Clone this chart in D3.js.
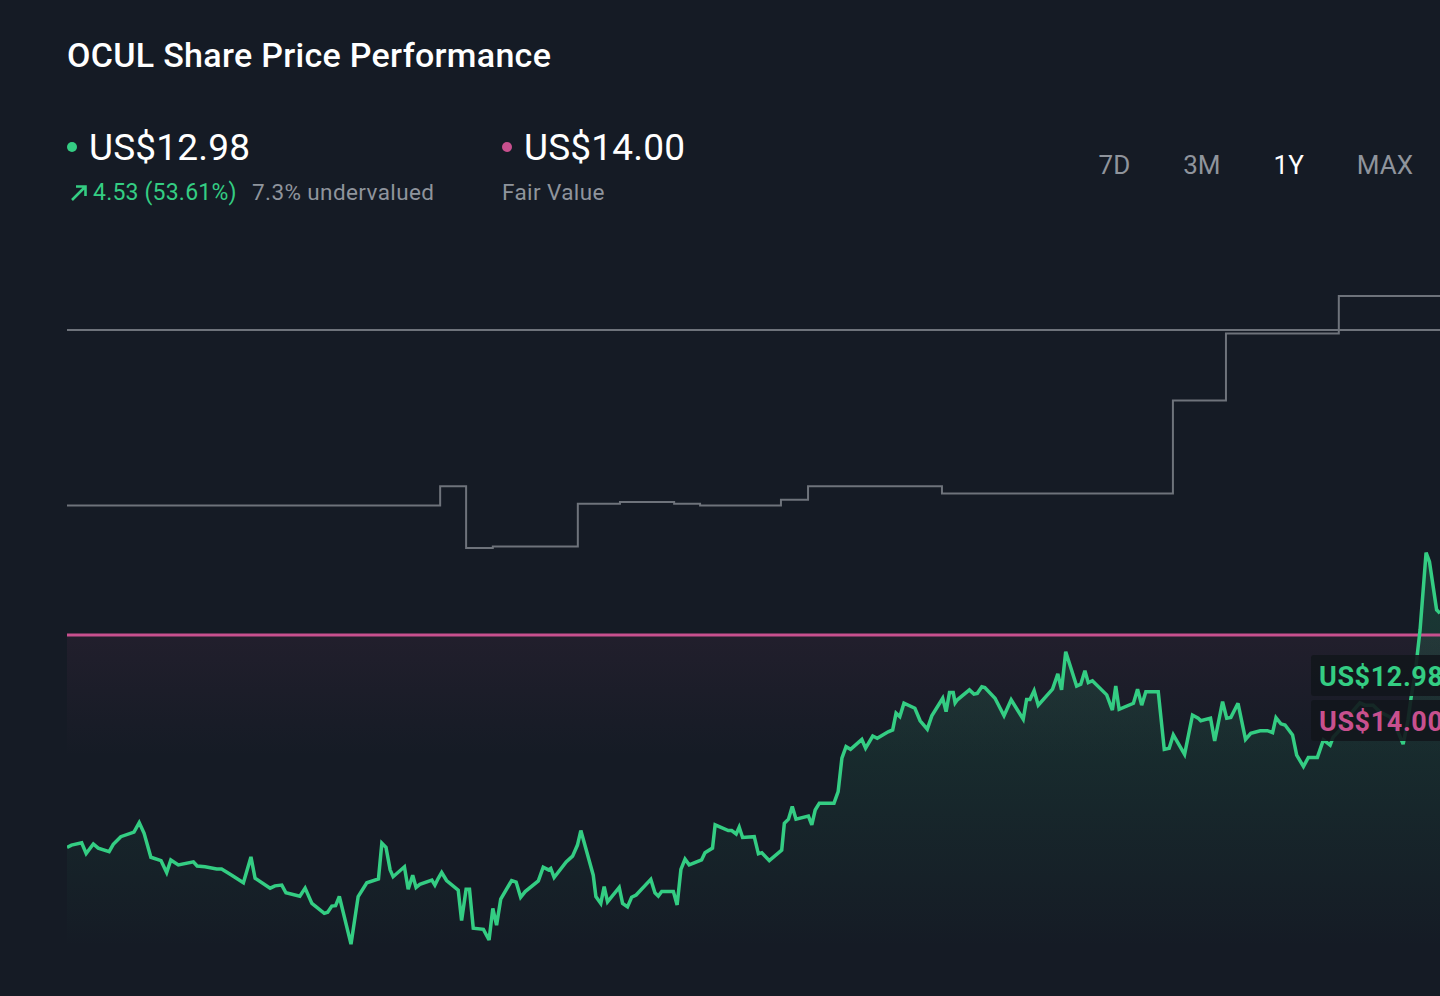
<!DOCTYPE html>
<html>
<head>
<meta charset="utf-8">
<script src="https://cdn.jsdelivr.net/npm/d3@7/dist/d3.min.js"></script>
<style>
  html, body { margin: 0; padding: 0; background: #151b25; }
  svg { display: block; font-family: Roboto, "Noto Sans", sans-serif; }
</style>
</head>
<body>
<svg id="chart" width="1440" height="996"></svg>
<script>
// ---------------- DATA ----------------
const ticker = "OCUL";
const currentPrice = 12.98;
const fairValue = 14.00;
const priceChange = "4.53 (53.61%)";
const valuationNote = "7.3% undervalued";
const rangeTabs = ["7D", "3M", "1Y", "MAX"];
const activeTab = "1Y";
const referenceLevel = 22.0;

// price series: days since start of window, close price (US$)
const priceDays = [0,1.2,3.9,5.1,7.0,8.3,11.2,12.3,14.3,17.8,19.2,20.5,22.3,25.0,26.5,27.6,29.6,33.6,34.6,36.7,39.8,41.1,43.8,46.9,48.9,50.0,54.0,55.3,57.1,58.2,61.9,63.3,65.1,68.4,69.3,70.4,71.4,72.4,75.5,77.4,79.7,82.8,83.7,84.8,85.9,86.7,89.7,90.7,91.9,92.8,93.8,97.0,97.8,98.7,99.6,100.9,104.0,104.9,106.1,107.0,108.0,110.7,112.2,113.2,114.2,115.3,118.2,119.4,120.6,121.8,125.3,126.6,128.0,128.6,129.5,132.7,134.4,135.7,136.6,139.9,140.6,141.9,142.8,143.7,146.8,147.7,149.0,150.1,151.3,155.2,156.3,157.2,158.1,161.2,162.2,163.2,164.3,165.4,168.7,169.6,171.6,172.3,175.8,176.7,177.9,178.7,179.6,182.7,183.8,184.7,186.7,190.0,190.7,191.8,192.8,193.8,197.1,198.0,198.9,200.0,203.9,205.0,206.0,207.1,208.3,211.3,212.3,214.2,215.4,218.3,219.5,220.4,221.4,222.5,225.4,226.8,228.7,229.9,232.8,233.7,234.6,235.6,236.1,236.7,239.9,241.1,242.0,243.2,244.0,246.7,249.1,251.0,254.2,255.1,256.0,257.1,258.2,262.0,263.4,264.4,265.5,268.4,269.5,270.6,271.5,272.6,276.4,277.9,278.8,279.7,283.5,284.6,285.7,286.8,290.1,291.7,293.0,294.1,297.1,299.2,300.7,301.4,304.0,305.1,307.2,308.3,309.4,311.3,313.3,314.7,317.2,319.1,320.5,321.4,322.7,323.8,325.8,326.9,328.7,330.0,332.4,334.0,335.8,336.6,338.4,341.6,343.7,345.1,347.2,349.1,351.7,353.6,355.2,356.5,357.3,358.4,359.7,361.3,362.2,364.1,365];
const priceValues = [8.43,8.49,8.55,8.27,8.52,8.41,8.32,8.51,8.71,8.83,9.08,8.80,8.17,8.08,7.77,8.10,7.97,8.05,7.94,7.92,7.86,7.86,7.70,7.50,8.18,7.62,7.36,7.42,7.44,7.24,7.15,7.36,6.96,6.70,6.73,6.89,6.90,7.14,5.89,7.14,7.50,7.60,8.54,8.43,7.84,7.66,7.92,7.33,7.70,7.38,7.46,7.57,7.44,7.62,7.77,7.56,7.31,6.51,7.33,7.33,6.31,6.28,6.00,6.83,6.39,7.07,7.56,7.52,7.12,7.27,7.55,7.91,7.84,7.88,7.64,8.05,8.20,8.49,8.87,7.70,7.14,6.96,7.40,7.00,7.38,6.96,6.87,7.12,7.18,7.59,7.24,7.15,7.27,7.27,6.92,7.85,8.12,7.97,8.10,8.29,8.41,9.02,8.87,8.87,8.78,8.96,8.69,8.71,8.26,8.29,8.08,8.36,9.06,9.17,9.50,9.17,9.25,9.02,9.41,9.59,9.59,9.89,10.77,11.07,11.00,11.26,11.03,11.35,11.29,11.46,11.51,11.95,11.86,12.21,12.08,11.75,11.53,11.88,12.34,11.99,12.49,12.49,12.22,12.30,12.56,12.45,12.47,12.64,12.62,12.34,11.88,12.30,11.79,12.31,12.31,12.54,12.16,12.58,12.98,12.56,13.56,12.66,12.71,13.06,12.75,12.80,12.43,12.03,12.66,12.05,12.21,12.58,12.16,12.51,12.51,11.00,11.03,11.38,10.87,11.90,11.82,11.75,11.82,11.22,12.25,11.82,11.84,12.21,11.26,11.42,11.49,11.49,11.44,11.83,11.67,11.64,11.38,10.85,10.55,10.79,10.79,11.25,11.11,11.32,11.51,11.98,12.22,12.16,12.16,11.98,11.85,11.51,11.14,11.77,12.35,13.00,14.13,16.16,15.92,14.66,14.57];

// grey step series (fair value estimate history)
const estimateDays = [0,99.2,106.1,113.2,135.8,147.0,161.4,168.3,189.8,197.0,232.6,294.0,308.1,338.1,365];
const estimateValues = [17.40,17.90,16.28,16.32,17.44,17.49,17.44,17.40,17.55,17.90,17.71,20.15,21.91,22.89,22.89];

// ---------------- COLOURS ----------------
const C = {
  bg: "#151b25",
  green: "#34cd83",
  pink: "#c8508e",
  grey: "#6e737b",
  text: "#ffffff",
  muted: "#8f949c"
};

const svg = d3.select("#chart");
const W = 1440, H = 996;
const plot = { left: 67, right: 1440, top: 230, bottom: 996 };

svg.append("rect").attr("width", W).attr("height", H).attr("fill", C.bg);

const x = d3.scaleLinear().domain([0, 365]).range([plot.left, plot.right]);
const y = d3.scaleLinear().domain([14, 22]).range([635, 330]);

const defs = svg.append("defs");
defs.append("clipPath").attr("id", "clip")
  .append("rect").attr("x", plot.left).attr("y", plot.top)
  .attr("width", plot.right - plot.left).attr("height", plot.bottom - plot.top);

const gGreen = defs.append("linearGradient").attr("id", "gGreen")
  .attr("gradientUnits", "userSpaceOnUse")
  .attr("x1", 0).attr("x2", 0).attr("y1", y(16)).attr("y2", y(5.8));
gGreen.append("stop").attr("offset", "0%").attr("stop-color", C.green).attr("stop-opacity", 0.18);
gGreen.append("stop").attr("offset", "100%").attr("stop-color", C.green).attr("stop-opacity", 0.0);

const gPink = defs.append("linearGradient").attr("id", "gPink")
  .attr("x1", 0).attr("x2", 0).attr("y1", 0).attr("y2", 1);
gPink.append("stop").attr("offset", "0%").attr("stop-color", C.pink).attr("stop-opacity", 0.07);
gPink.append("stop").attr("offset", "100%").attr("stop-color", C.pink).attr("stop-opacity", 0.0);

const g = svg.append("g").attr("clip-path", "url(#clip)");

// pink tint under fair value line
g.append("rect")
  .attr("x", plot.left).attr("width", plot.right - plot.left)
  .attr("y", y(fairValue)).attr("height", y(fairValue - 3.2) - y(fairValue))
  .attr("fill", "url(#gPink)");

const priceData = priceDays.map((d, i) => ({ d, v: priceValues[i] }));
const estData = estimateDays.map((d, i) => ({ d, v: estimateValues[i] }));

// green area under price
g.append("path").datum(priceData)
  .attr("fill", "url(#gGreen)")
  .attr("d", d3.area().x(p => x(p.d)).y0(plot.bottom).y1(p => y(p.v)));

// reference horizontal grey line
g.append("line")
  .attr("x1", plot.left).attr("x2", plot.right)
  .attr("y1", y(referenceLevel)).attr("y2", y(referenceLevel))
  .attr("stroke", C.grey).attr("stroke-width", 2);

// grey step line
g.append("path").datum(estData)
  .attr("fill", "none").attr("stroke", C.grey).attr("stroke-width", 2)
  .attr("d", d3.line().curve(d3.curveStepAfter).x(p => x(p.d)).y(p => y(p.v)));

// fair value line
g.append("line")
  .attr("x1", plot.left).attr("x2", plot.right)
  .attr("y1", y(fairValue)).attr("y2", y(fairValue))
  .attr("stroke", C.pink).attr("stroke-width", 3);

// price line
g.append("path").datum(priceData)
  .attr("fill", "none").attr("stroke", C.green).attr("stroke-width", 3.5)
  .attr("stroke-linejoin", "miter").attr("stroke-miterlimit", 3)
  .attr("d", d3.line().x(p => x(p.d)).y(p => y(p.v)));

// right labels
const labels = [
  { text: "US$" + currentPrice.toFixed(2), color: C.green, cy: y(currentPrice) + 2 },
  { text: "US$" + fairValue.toFixed(2), color: C.pink, cy: y(currentPrice) + 47 }
];
const lab = svg.append("g");
labels.forEach(l => {
  lab.append("rect").attr("x", 1311).attr("y", l.cy - 21).attr("width", 140).attr("height", 41)
    .attr("rx", 3).attr("fill", "#12161c").attr("fill-opacity", 0.9);
  lab.append("text").attr("x", 1319).attr("y", l.cy + 10)
    .attr("fill", l.color).attr("font-size", 27).attr("font-weight", 700)
    .attr("letter-spacing", 0.6)
    .text(l.text);
});

// ---------------- HEADER ----------------
svg.append("text").attr("x", 67).attr("y", 67)
  .attr("fill", C.text).attr("font-size", 34).attr("font-weight", 500)
  .attr("letter-spacing", 0.3)
  .text(ticker + " Share Price Performance");

svg.append("circle").attr("cx", 72).attr("cy", 147).attr("r", 5).attr("fill", C.green);
svg.append("text").attr("x", 89).attr("y", 160)
  .attr("fill", C.text).attr("font-size", 37).attr("font-weight", 400)
  .attr("letter-spacing", 0.2)
  .text("US$" + currentPrice.toFixed(2));

svg.append("circle").attr("cx", 507).attr("cy", 147).attr("r", 5).attr("fill", C.pink);
svg.append("text").attr("x", 524).attr("y", 160)
  .attr("fill", C.text).attr("font-size", 37).attr("font-weight", 400)
  .attr("letter-spacing", 0.2)
  .text("US$" + fairValue.toFixed(2));

// up arrow
svg.append("path").attr("d", "M72,200 L85,187 M76,186.5 L85.5,186.5 L85.5,196")
  .attr("stroke", C.green).attr("stroke-width", 2.6).attr("fill", "none");
svg.append("text").attr("x", 93).attr("y", 200)
  .attr("fill", C.green).attr("font-size", 23).attr("letter-spacing", 0.2).text(priceChange);
svg.append("text").attr("x", 252).attr("y", 200)
  .attr("fill", C.muted).attr("font-size", 22.5).attr("letter-spacing", 0.4).text(valuationNote);
svg.append("text").attr("x", 502).attr("y", 200)
  .attr("fill", C.muted).attr("font-size", 22.5).attr("letter-spacing", 0.4).text("Fair Value");

// range tabs: right-aligned flow with fixed gaps
const tabGap = 53, tabRight = 1413;
const tabs = svg.append("g").selectAll("text").data(rangeTabs).join("text")
  .attr("y", 174)
  .attr("font-size", 26)
  .attr("fill", d => d === activeTab ? C.text : C.muted)
  .text(d => d);
const widths = tabs.nodes().map(n => n.getComputedTextLength());
let cursor = tabRight;
const xs = [];
for (let i = rangeTabs.length - 1; i >= 0; i--) {
  cursor -= widths[i];
  xs[i] = cursor;
  cursor -= tabGap;
}
tabs.attr("x", (d, i) => xs[i]);
</script>
</body>
</html>
